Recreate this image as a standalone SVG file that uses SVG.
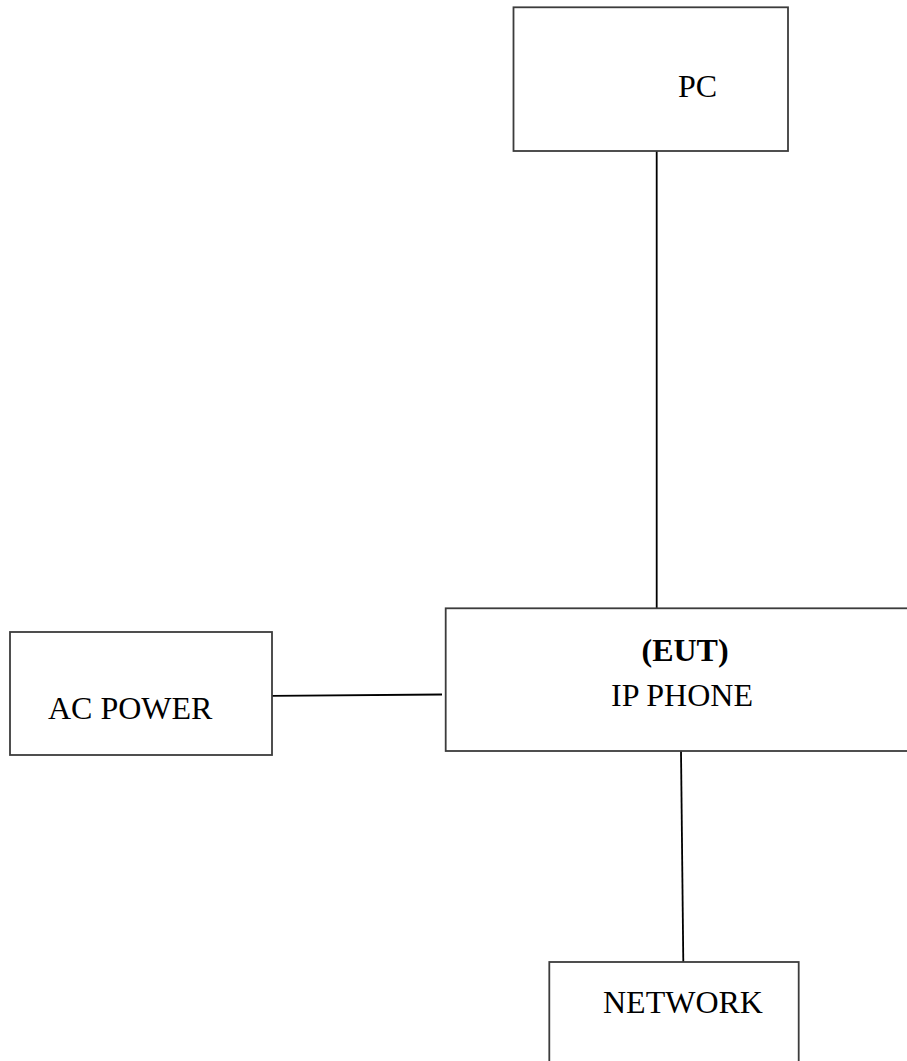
<svg xmlns="http://www.w3.org/2000/svg" width="907" height="1061" viewBox="0 0 907 1061">
<style>
.box{fill:#fff;stroke:#3c3c3c;stroke-width:1.8}
.wire{stroke:#000;stroke-width:1.8;fill:none}
.t{font-family:"Liberation Serif","Times New Roman",serif;font-size:32px;fill:#000}
.b{font-weight:bold}
</style>
<rect width="907" height="1061" fill="#fff"/>
<g id="connectors">
<line class="wire" x1="656.7" y1="151" x2="656.7" y2="608"/>
<line class="wire" x1="272" y1="695.8" x2="442" y2="694.5"/>
<line class="wire" x1="681" y1="751" x2="683.3" y2="962"/>
</g>
<g id="pc">
<rect class="box" x="513.5" y="7.3" width="274.5" height="143.7"/>
<text class="t" x="678" y="97">PC</text>
</g>
<g id="eut">
<rect class="box" x="445.7" y="608.3" width="480" height="142.7"/>
<text class="t b" x="641.5" y="660.5">(EUT)</text>
<text class="t" x="611" y="706">IP PHONE</text>
</g>
<g id="acpower">
<rect class="box" x="10" y="632" width="262" height="123"/>
<text class="t" x="48" y="719">AC POWER</text>
</g>
<g id="network">
<rect class="box" x="549.3" y="962" width="249.4" height="120"/>
<text class="t" x="603" y="1013">NETWORK</text>
</g>
</svg>
